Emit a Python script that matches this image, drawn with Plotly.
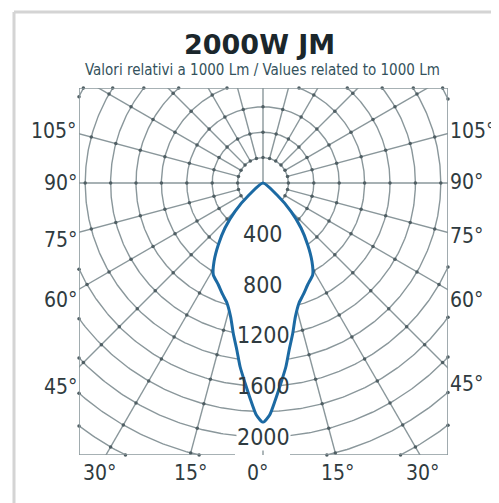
import numpy as np
import plotly.graph_objects as go

# ---- data ----
# half curve (symmetric), angle from nadir in degrees, intensity in cd/klm
curve_angles = [0, 1.6, 3.2, 5.1, 7.1, 8.9, 11.2, 13.5, 16.7, 19.8, 23.7, 28.5, 32.0, 35.9, 40.2, 44.7, 49.5, 55.0]
curve_values = [1885, 1830, 1715, 1583, 1458, 1331, 1206, 1088, 987, 935, 875, 821, 727, 600, 464, 313, 143, 0]

ring_values = list(range(200, 2800, 200))
radial_angles = list(range(0, 360, 15))
intensity_labels = [400, 800, 1200, 1600, 2000]
left_angle_labels = ["105°", "90°", "75°", "60°", "45°"]
right_angle_labels = ["105°", "90°", "75°", "60°", "45°"]
bottom_angle_labels = ["30°", "15°", "0°", "15°", "30°"]
title_text = "2000W JM"
subtitle_text = "Valori relativi a 1000 Lm / Values related to 1000 Lm"

# ---- layout geometry (reference pixels; page body has an 8px margin) ----
OFF = 8
W, H = 499 - OFF, 503 - OFF
L, R, T, B = 79, 448, 88, 455          # plot box in reference pixels
OX, OY = 263, 183                      # polar origin in reference pixels
K = 7.874                              # cd per pixel
XMIN, XMAX = (L - OX) * K, (R - OX) * K
YMIN, YMAX = -(B - OY) * K, (OY - T) * K

GRID = "#8a979b"
DOT = "#4f5e63"
BLUE = "#1c6aa3"
TXT = "#2f3b40"


def P(px, py):
    return (px - L) / (R - L), (B - py) / (B - T)


fig = go.Figure()

# rings
phi = np.linspace(0, 2 * np.pi, 721)
rx, ry = [], []
for rv in ring_values:
    rx += list(rv * np.cos(phi)) + [None]
    ry += list(rv * np.sin(phi)) + [None]
fig.add_trace(go.Scatter(x=rx, y=ry, mode="lines", line=dict(color=GRID, width=1.4),
                         hoverinfo="skip", showlegend=False))

# radial lines
lx, ly = [], []
for a in radial_angles:
    ar = np.radians(a)
    r0 = 0 if a % 90 == 0 else ring_values[0]
    r1 = 4000
    lx += [r0 * np.sin(ar), r1 * np.sin(ar), None]
    ly += [-r0 * np.cos(ar), -r1 * np.cos(ar), None]
fig.add_trace(go.Scatter(x=lx, y=ly, mode="lines", line=dict(color=GRID, width=1.4),
                         hoverinfo="skip", showlegend=False))

# dots at intersections
dx, dy = [], []
for rv in ring_values:
    for a in radial_angles:
        ar = np.radians(a)
        px_, py_ = rv * np.sin(ar), -rv * np.cos(ar)
        if XMIN <= px_ <= XMAX and YMIN <= py_ <= YMAX:
            dx.append(px_); dy.append(py_)
    for xb in (XMIN, XMAX):
        if rv > abs(xb):
            h = np.sqrt(rv ** 2 - xb ** 2)
            for s in (1, -1):
                if YMIN <= s * h <= YMAX:
                    dx.append(xb); dy.append(s * h)
    for yb in (YMIN, YMAX):
        if rv > abs(yb):
            h = np.sqrt(rv ** 2 - yb ** 2)
            for s in (1, -1):
                if XMIN <= s * h <= XMAX:
                    dx.append(s * h); dy.append(yb)
fig.add_trace(go.Scatter(x=dx, y=dy, mode="markers", marker=dict(color=DOT, size=3.5),
                         cliponaxis=False, hoverinfo="skip", showlegend=False))

# photometric curve
th = np.radians(curve_angles)
rr = np.array(curve_values, dtype=float)
xs_r, ys_r = rr * np.sin(th), -rr * np.cos(th)
cx = np.concatenate([(-xs_r)[::-1], xs_r[1:]])
cy = np.concatenate([ys_r[::-1], ys_r[1:]])
fig.add_trace(go.Scatter(x=cx, y=cy, mode="lines", fill="toself", fillcolor="white",
                         line=dict(color=BLUE, width=3, shape="spline", smoothing=0.6),
                         hoverinfo="skip", showlegend=False))

# box border
shapes = []
for (x0, y0, x1, y1) in [(XMIN, YMIN, XMIN, YMAX), (XMIN, YMAX, XMAX, YMAX),
                         (XMAX, YMAX, XMAX, YMIN), (XMIN, YMIN, (235 - OX) * K, YMIN),
                         ((290 - OX) * K, YMIN, XMAX, YMIN)]:
    shapes.append(dict(type="line", xref="x", yref="y", x0=x0, y0=y0, x1=x1, y1=y1,
                       line=dict(color=GRID, width=1.6)))
# outer frame
fx0, fy0 = P(14, 12)
fx1, _ = P(497, 12)
_, fyb = P(14, 510)
shapes.append(dict(type="line", xref="paper", yref="paper", x0=fx0, y0=fyb, x1=fx0, y1=fy0,
                   line=dict(color="#d4d4d4", width=3)))
shapes.append(dict(type="line", xref="paper", yref="paper", x0=fx0, y0=fy0, x1=fx1, y1=fy0,
                   line=dict(color="#d4d4d4", width=3)))
shapes.append(dict(type="line", xref="paper", yref="paper", x0=fx1, y0=fy0, x1=fx1, y1=fyb,
                   line=dict(color="#e6e6e6", width=2)))

ann = []
tx, ty = P(259.5, 45)
ann.append(dict(x=tx, y=ty, xref="paper", yref="paper", text=title_text, showarrow=False,
                font=dict(family="DejaVu Sans", size=27, color="#1b272c", weight="bold"),
                xanchor="center", yanchor="middle"))
sx, sy = P(262, 70)
ann.append(dict(x=sx, y=sy, xref="paper", yref="paper", text=subtitle_text, showarrow=False,
                font=dict(family="DejaVu Sans Condensed", size=15, color="#34525c"),
                xanchor="center", yanchor="middle"))

lab_font = dict(family="DejaVu Sans Condensed", size=21, color=TXT)
for t, py in zip(left_angle_labels, [131, 183, 240, 300, 387]):
    ax_, ay_ = P(79, py)
    ann.append(dict(x=ax_, y=ay_, xref="paper", yref="paper", text=t, showarrow=False,
                    font=lab_font, xanchor="right", yanchor="middle"))
for t, py in zip(right_angle_labels, [131, 182, 236, 300, 384]):
    ax_, ay_ = P(448, py)
    ann.append(dict(x=ax_, y=ay_, xref="paper", yref="paper", text=t, showarrow=False,
                    font=lab_font, xanchor="left", yanchor="middle"))
for t, pxx in zip(bottom_angle_labels, [99, 190, 257, 337, 422]):
    ax_, ay_ = P(pxx, 473)
    ann.append(dict(x=ax_, y=ay_, xref="paper", yref="paper", text=t, showarrow=False,
                    font=lab_font, xanchor="center", yanchor="middle"))

for v in intensity_labels:
    ann.append(dict(x=0, y=-v, xref="x", yref="y", text=str(v), showarrow=False,
                    font=dict(family="DejaVu Sans Condensed", size=23, color=TXT),
                    bgcolor="white" if v == intensity_labels[-1] else "rgba(0,0,0,0)",
                    borderpad=0, xanchor="center", yanchor="middle"))

fig.update_layout(
    width=W, height=H,
    margin=dict(l=L - OFF, r=W - (R - OFF), t=T - OFF, b=H - (B - OFF)),
    paper_bgcolor="white", plot_bgcolor="white",
    xaxis=dict(range=[XMIN, XMAX], visible=False, showgrid=False, zeroline=False, fixedrange=True),
    yaxis=dict(range=[YMIN, YMAX], visible=False, showgrid=False, zeroline=False, fixedrange=True),
    shapes=shapes, annotations=ann, showlegend=False,
)

fig.write_html("out.html")
